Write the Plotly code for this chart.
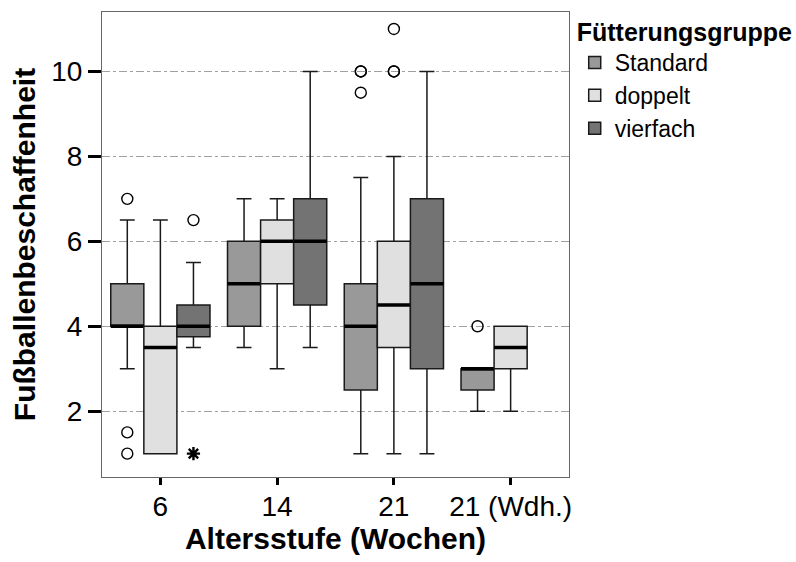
import plotly.graph_objects as go

categories = ["6", "14", "21", "21 (Wdh.)"]
series = ["Standard", "doppelt", "vierfach"]
fill_colors = {"Standard": "#999999", "doppelt": "#e0e0e0", "vierfach": "#737373"}

# precomputed box statistics per series (per category)
std_x = ["6", "14", "21", "21 (Wdh.)"]
std_lower = [3.0, 3.5, 1.0, 2.0]
std_q1 = [4.0, 4.0, 2.5, 2.5]
std_median = [4.0, 5.0, 4.0, 3.0]
std_q3 = [5.0, 6.0, 5.0, 3.0]
std_upper = [6.5, 7.0, 7.5, 3.0]

dop_x = ["6", "14", "21", "21 (Wdh.)"]
dop_lower = [1.0, 3.0, 1.0, 2.0]
dop_q1 = [1.0, 5.0, 3.5, 3.0]
dop_median = [3.5, 6.0, 4.5, 3.5]
dop_q3 = [4.0, 6.5, 6.0, 4.0]
dop_upper = [6.5, 7.0, 8.0, 4.0]

vier_x = ["6", "14", "21"]
vier_lower = [3.5, 3.5, 1.0]
vier_q1 = [3.75, 4.5, 3.0]
vier_median = [4.0, 6.0, 5.0]
vier_q3 = [4.5, 7.0, 7.0]
vier_upper = [5.5, 10.0, 10.0]

# outliers (circles)
std_out_x = ["6", "6", "6", "21", "21", "21", "21 (Wdh.)"]
std_out_y = [7.0, 1.5, 1.0, 10.0, 10.0, 9.5, 4.0]
dop_out_x = ["21", "21", "21"]
dop_out_y = [10.0, 10.0, 11.0]
vier_out_x = ["6"]
vier_out_y = [6.5]
# extreme values (asterisk)
vier_ext_x = ["6"]
vier_ext_y = [1.0]

stats = {
    "Standard": (std_x, std_lower, std_q1, std_median, std_q3, std_upper, std_out_x, std_out_y, [], []),
    "doppelt": (dop_x, dop_lower, dop_q1, dop_median, dop_q3, dop_upper, dop_out_x, dop_out_y, [], []),
    "vierfach": (vier_x, vier_lower, vier_q1, vier_median, vier_q3, vier_upper, vier_out_x, vier_out_y, vier_ext_x, vier_ext_y),
}

fig = go.Figure()
clear = "rgba(0,0,0,0)"
for s in series:
    x, lo, q1, med, q3, up, ox, oy, ex, ey = stats[s]
    fig.add_trace(go.Box(
        name=s, x=x, q1=q1, median=med, q3=q3, lowerfence=lo, upperfence=up,
        fillcolor=fill_colors[s], line=dict(color="#1a1a1a", width=1.5),
        whiskerwidth=0.45, offsetgroup=s, alignmentgroup="a", legendgroup=s,
        boxpoints=False, hoverinfo="skip",
    ))
    fig.add_trace(go.Box(
        name=s, x=x, q1=med, median=med, q3=med, lowerfence=med, upperfence=med,
        fillcolor=clear, line=dict(color="black", width=3.5),
        whiskerwidth=0, offsetgroup=s, alignmentgroup="a", legendgroup=s,
        boxpoints=False, showlegend=False, hoverinfo="skip",
    ))
    if ox:
        fig.add_trace(go.Box(
            name=s, x=ox, y=oy, boxpoints="all", jitter=0, pointpos=0,
            fillcolor=clear, line=dict(color=clear, width=0),
            marker=dict(symbol="circle-open", size=11, color="black",
                        line=dict(width=1.4, color="black")),
            offsetgroup=s, alignmentgroup="a", legendgroup=s,
            showlegend=False, hoverinfo="skip",
        ))
    if ex:
        fig.add_trace(go.Box(
            name=s, x=ex, y=ey, boxpoints="all", jitter=0, pointpos=0,
            fillcolor=clear, line=dict(color=clear, width=0),
            marker=dict(symbol="asterisk-open", size=11, color="black",
                        line=dict(width=2.4, color="black")),
            offsetgroup=s, alignmentgroup="a", legendgroup=s,
            showlegend=False, hoverinfo="skip",
        ))

font_family = "Liberation Sans, Arial, sans-serif"
fig.update_layout(
    width=796, height=562,
    margin=dict(l=102, r=227, t=12, b=85),
    paper_bgcolor="white", plot_bgcolor="white",
    boxmode="group", boxgap=0.15, boxgroupgap=0,
    font=dict(family=font_family, color="black"),
    legend=dict(
        title=dict(text="<b>Fütterungsgruppe</b>", font=dict(size=25)),
        font=dict(size=23), xref="container", yref="container",
        x=0.722, xanchor="left", y=0.985, yanchor="top",
        tracegroupgap=0, itemwidth=30, bgcolor=clear,
    ),
)
fig.update_xaxes(
    type="category", categoryorder="array", categoryarray=categories,
    range=[-0.5, 3.5], automargin=False,
    showline=True, linecolor="#666666", linewidth=1, mirror=True,
    ticks="outside", ticklen=7, tickwidth=3, tickcolor="black",
    tickfont=dict(size=28), ticklabelstandoff=-3,
    title=dict(text="<b>Altersstufe (Wochen)</b>", font=dict(size=30), standoff=0),
    showgrid=False,
)
fig.update_yaxes(
    range=[0.45, 11.4], automargin=False,
    tickvals=[2, 4, 6, 8, 10],
    showline=True, linecolor="#666666", linewidth=1, mirror=True,
    ticks="outside", ticklen=13, tickwidth=3, tickcolor="black",
    tickfont=dict(size=28),
    title=dict(text="<b>Fußballenbeschaffenheit</b>", font=dict(size=30), standoff=6),
    showgrid=True, gridcolor="#a0a0a0", gridwidth=1, griddash="8px,3px,3px,3px",
    zeroline=False,
)

fig.write_html("out.html")
